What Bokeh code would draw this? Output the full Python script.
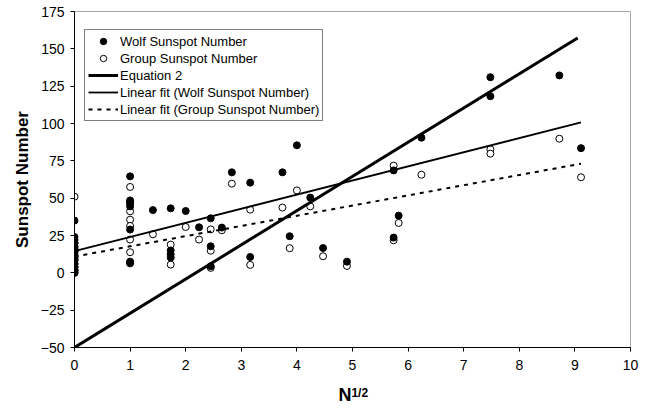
from bokeh.plotting import figure
from bokeh.models import (Range1d, FixedTicker, Legend, LegendItem, ColumnDataSource,
                          LinearAxis, CustomJSTickFormatter)
from bokeh.embed import file_html
from bokeh.resources import INLINE

# ---- data ----
wolf_x = ([0.0] * 15 + [1.0] * 8 + [1.41] + [1.73] * 4 + [2.0] + [2.24] + [2.45] * 3 + [2.65] + [2.83] +
          [3.16] * 2 + [3.74] + [3.87] + [4.0] + [4.24] + [4.47] + [4.90] + [5.74] * 2 + [5.83] + [6.24] +
          [7.48] * 2 + [8.72] + [9.11])
wolf_y = ([35, 24, 22, 20, 18, 16, 14, 12, 10, 8, 6, 4, 2, 1, 0] +
          [64.6, 48.5, 47.4, 46.3, 44.5, 29, 7.5, 6.8] +
          [42] + [43.2, 15, 12.4, 10.2] + [41.4] + [30.5] + [36.5, 17.8, 4.4] + [30.3] + [67.3] +
          [60.4, 10.6] + [67.3] + [24.5] + [85.4] + [50.4] + [16.6] + [7.5] + [68.6, 23.6] + [38.3] +
          [90.5] + [131, 118.3] + [132.2] + [83.5])

group_x = ([0.0] * 10 + [1.0] * 7 + [1.41] + [1.73] * 2 + [2.0] + [2.24] + [2.45] * 3 + [2.65] + [2.83] +
           [3.16] * 2 + [3.74] + [3.87] + [4.0] + [4.24] + [4.47] + [4.90] + [5.74] * 2 + [5.83] + [6.24] +
           [7.48] * 2 + [8.72] + [9.11])
group_y = ([51, 20, 17, 14, 11, 9, 6, 4, 2, 0] +
           [57.5, 41.2, 35.6, 31.4, 22.3, 13.8, 6.3] +
           [25.8] + [18.9, 5.5] + [30.7] + [22.3] + [29.1, 14.8, 3.3] + [28.5] + [59.7] +
           [42.3, 5.3] + [43.7] + [16.5] + [55.2] + [44.5] + [11.1] + [4.6] + [71.8, 21.8] + [33.4] +
           [65.7] + [82.7, 79.8] + [89.8] + [64])

eq2_x = [0, 9.05]
eq2_y = [-50, 157.3]
wolf_fit_x = [0, 9.11]
wolf_fit_y = [14.6, 100.7]
group_fit_x = [0, 9.11]
group_fit_y = [10.9, 73.1]

x_ticks = [0, 1, 2, 3, 4, 5, 6, 7, 8, 9, 10]
y_ticks = [-50, -25, 0, 25, 50, 75, 100, 125, 150, 175]

legend_labels = ["Wolf Sunspot Number", "Group Sunspot Number", "Equation 2",
                 "Linear fit (Wolf Sunspot Number)", "Linear fit (Group Sunspot Number)"]
x_label_base = "N"
x_label_sup = "1/2"

FONT = "Liberation Sans"

p = figure(width=650, height=409, output_backend="svg", toolbar_location=None,
           x_range=Range1d(0, 10), y_range=Range1d(-50, 175),
           min_border_left=74, min_border_right=20, min_border_top=11, min_border_bottom=62)
p.grid.visible = False
p.outline_line_color = "#a6a6a6"
p.outline_line_width = 1
p.background_fill_color = "white"
p.border_fill_color = "white"

for ax in (p.xaxis[0], p.yaxis[0]):
    ax.axis_line_color = "black"
    ax.major_tick_line_color = "black"
    ax.major_tick_in = 0
    ax.major_tick_out = 4
    ax.minor_tick_line_color = None
    ax.major_label_text_font = FONT
    ax.major_label_text_font_size = "14px"
    ax.major_label_text_color = "black"

p.xaxis[0].ticker = FixedTicker(ticks=x_ticks)
p.yaxis[0].ticker = FixedTicker(ticks=y_ticks)
p.xaxis[0].major_label_standoff = 8
p.yaxis[0].major_label_standoff = 6
p.yaxis[0].axis_label = "Sunspot Number"
p.yaxis[0].axis_label_text_font = FONT
p.yaxis[0].axis_label_text_font_size = "17px"
p.yaxis[0].axis_label_text_font_style = "bold"
p.yaxis[0].axis_label_text_color = "black"
p.yaxis[0].axis_label_standoff = 6

# x-axis title "N" (padded with no-break spaces so that it sits left of centre)
p.xaxis[0].axis_label = x_label_base + "\u00a0\u00a0\u00a0"
p.xaxis[0].axis_label_text_font = FONT
p.xaxis[0].axis_label_text_font_size = "18px"
p.xaxis[0].axis_label_text_font_style = "bold"
p.xaxis[0].axis_label_text_color = "black"
p.xaxis[0].axis_label_standoff = 12

# superscript "1/2" drawn by a second, bare axis pulled up next to the "N"
sup_axis = LinearAxis(ticker=FixedTicker(ticks=[5.13]),
                      formatter=CustomJSTickFormatter(code="return '%s'" % x_label_sup),
                      axis_line_color=None, major_tick_line_color=None, minor_tick_line_color=None,
                      major_tick_in=0, major_tick_out=0, major_label_standoff=-22,
                      major_label_text_font=FONT, major_label_text_font_size="12px",
                      major_label_text_font_style="bold", major_label_text_color="black")
p.add_layout(sup_axis, "below")

src_w = ColumnDataSource(dict(x=wolf_x, y=wolf_y))
src_g = ColumnDataSource(dict(x=group_x, y=group_y))

r_group = p.scatter("x", "y", source=src_g, size=7, marker="circle",
                    fill_color="white", line_color="black", line_width=1)
r_wolf = p.scatter("x", "y", source=src_w, size=7, marker="circle",
                   fill_color="black", line_color="black", line_width=1)
r_eq2 = p.line(eq2_x, eq2_y, line_color="black", line_width=3)
r_wfit = p.line(wolf_fit_x, wolf_fit_y, line_color="black", line_width=1.8)
r_gfit = p.line(group_fit_x, group_fit_y, line_color="black", line_width=2, line_dash="4 5")

legend = Legend(items=[LegendItem(label=legend_labels[0], renderers=[r_wolf]),
                       LegendItem(label=legend_labels[1], renderers=[r_group]),
                       LegendItem(label=legend_labels[2], renderers=[r_eq2]),
                       LegendItem(label=legend_labels[3], renderers=[r_wfit]),
                       LegendItem(label=legend_labels[4], renderers=[r_gfit])],
                location=(10, 226))
legend.label_text_font = FONT
legend.label_text_font_size = "13px"
legend.label_text_color = "black"
legend.label_standoff = 2
legend.glyph_width = 30
legend.glyph_height = 16
legend.label_height = 16
legend.spacing = 1
legend.padding = 3
legend.margin = 0
legend.border_line_color = "black"
legend.border_line_width = 1
legend.background_fill_color = "white"
legend.background_fill_alpha = 1
p.add_layout(legend, "center")

open("out.html", "w").write(file_html(p, INLINE))
